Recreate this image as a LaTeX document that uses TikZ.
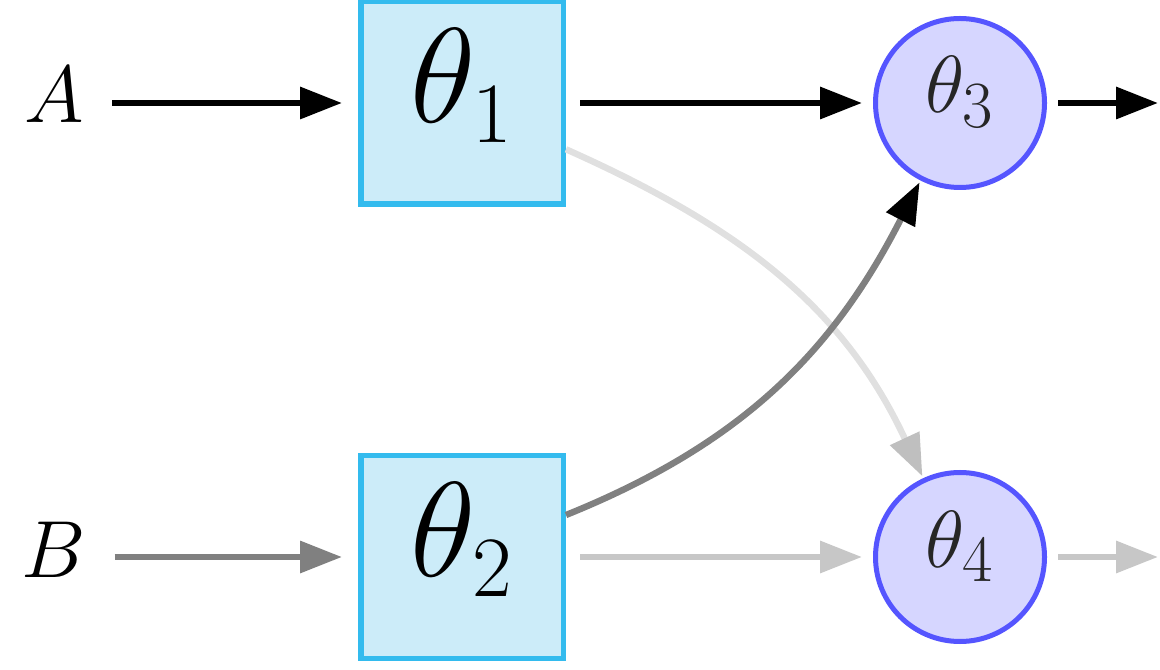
\documentclass[tikz,border=0pt]{standalone}
\usetikzlibrary{arrows.meta}
\DeclareFontShape{OML}{cmm}{m}{it}{<-6>cmmi5<6-7>cmmi6<7-8>cmmi7<8-9>cmmi8<9-10>cmmi9<10-12>cmmi10<12->cmmi12}{}
\DeclareFontShape{OT1}{cmr}{m}{n}{<-6>cmr5<6-7>cmr6<7-8>cmr7<8-9>cmr8<9-10>cmr9<10-12>cmr10<12-17>cmr12<17->cmr17}{}
\DeclareFontShape{OMS}{cmsy}{m}{n}{<-6>cmsy5<6-7>cmsy6<7-8>cmsy7<8-9>cmsy8<9-10>cmsy9<10->cmsy10}{}
\DeclareFontShape{OMX}{cmex}{m}{n}{<->cmex10}{}
\DeclareMathSizes{67.5}{67.5}{43}{30}
\DeclareMathSizes{40.5}{40.5}{33}{25}
\definecolor{boxline}{HTML}{33BBEE}
\definecolor{boxfill}{HTML}{CCECF9}
\definecolor{cline}{HTML}{5555FF}
\definecolor{cfill}{HTML}{D6D6FF}
\tikzset{
  box/.style={draw=boxline, fill=boxfill, line width=2.75pt, minimum size=101.25pt,
    inner sep=0pt, text height=47.5pt, text depth=28pt, font=\fontsize{67.5}{80}\selectfont},
  unit/.style={circle, draw=cline, fill=cfill, line width=2.5pt, minimum size=84.5pt,
    inner sep=0pt, text height=28.5pt, text depth=18.5pt, font=\fontsize{40.5}{48}\selectfont, text=black!85},
  lab/.style={inner sep=0pt, inner xsep=14pt, text height=28pt, text depth=8pt, font=\fontsize{40.5}{48}\selectfont},
  arr/.style={line width=3.2pt, -{Triangle[length=21pt,width=15.5pt]}},
}
\begin{document}
\begin{tikzpicture}[x=0.5pt,y=0.5pt]
\useasboundingbox (0,0) rectangle (1160,669);
\node[lab] (A) at (54,566) {$A$};
\node[lab] (B) at (54,112) {$B$};
\node[box] (t1) at (462,566) {$\theta_1$};
\node[box] (t2) at (462,112) {$\theta_2$};
\node[unit] (t3) at (960,566) {$\theta_3$};
\node[unit] (t4) at (960,112) {$\theta_4$};
\coordinate (o3) at (1158,566);
\coordinate (o4) at (1158,112);
% top row
\draw[arr, shorten >=8pt] (A) -- (t1);
\draw[arr, shorten <=7pt, shorten >=5.5pt] (t1) -- (t3);
\draw[arr, shorten <=5.5pt] (t3) -- (o3);
% bottom row
\draw[arr, draw=black!50, shorten >=8pt] (B) -- (t2);
\draw[arr, draw=black!22, shorten <=7pt, shorten >=5.5pt] (t2) -- (t4);
\draw[arr, draw=black!22, shorten <=5.5pt] (t4) -- (o4);
% crossings
\draw[line width=3.2pt, draw=black!12, -{Triangle[length=21pt,width=15.5pt,color=black!25]}, shorten >=1pt]
  (t1) to[out=-24, in=115] (t4);
\draw[line width=3.2pt, draw=black!50, -{Triangle[length=21pt,width=15.5pt,color=black]}, shorten >=1pt]
  (t2) to[out=22, in=-117] (t3);
\end{tikzpicture}
\end{document}
